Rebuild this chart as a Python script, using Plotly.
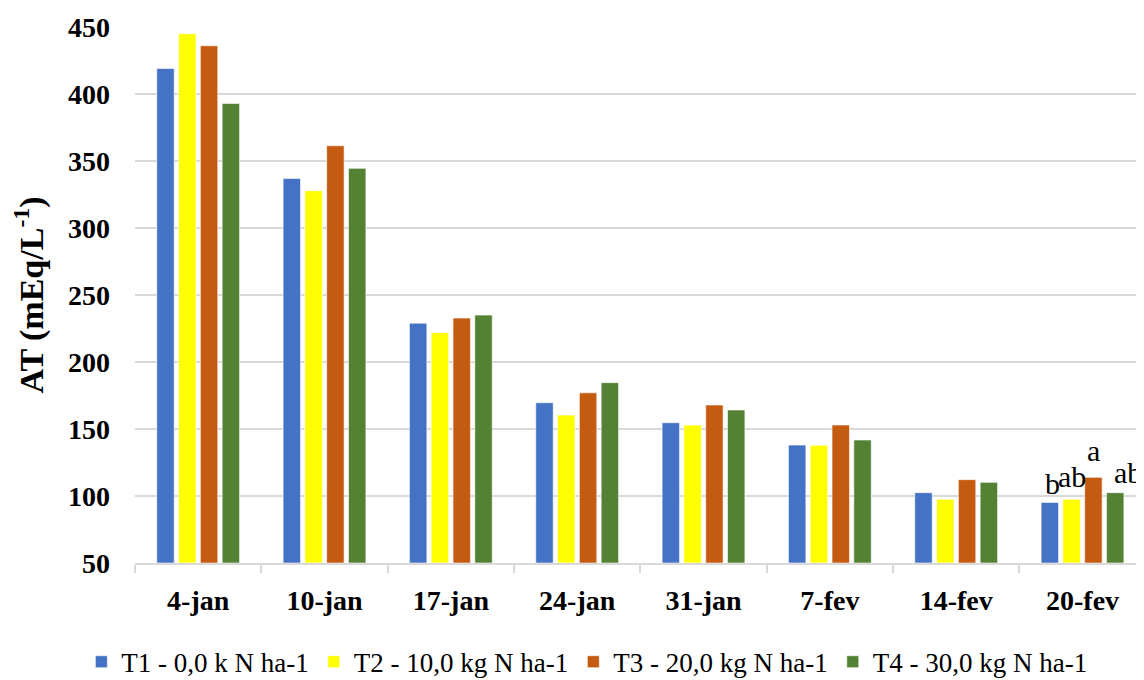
import plotly.graph_objects as go

categories = ["4-jan", "10-jan", "17-jan", "24-jan", "31-jan", "7-fev", "14-fev", "20-fev"]
series_names = ["T1 - 0,0 k N ha-1", "T2 - 10,0 kg N ha-1", "T3 - 20,0 kg N ha-1", "T4 - 30,0 kg N ha-1"]
t1 = [419, 337, 229, 169.6, 154.7, 138, 102.5, 95.2]
t2 = [445, 327.8, 221.9, 160.4, 152.9, 137.8, 97.5, 97.5]
t3 = [436, 361.4, 232.8, 177, 167.9, 153, 112.2, 113.9]
t4 = [393, 344.5, 235, 184.6, 164.2, 141.8, 110.2, 102.5]
letters_last = ["b", "ab", "a", "ab"]
y_ticks = [50, 100, 150, 200, 250, 300, 350, 400, 450]

colors = ["#4472C4", "#FFFF00", "#C55A11", "#548235"]
FONT = "Times New Roman, Liberation Serif, DejaVu Serif, serif"

fig = go.Figure()
for name, vals, col in zip(series_names, [t1, t2, t3, t4], colors):
    fig.add_trace(go.Bar(
        x=categories, y=[v - 50 for v in vals], base=50, name=name,
        marker=dict(color=col, line=dict(color="rgba(255,255,255,0.6)", width=1)),
    ))

# letters above last group
bargap = 0.31
slot = (1 - bargap) / 4
offsets = [(-1.5 + i) * slot for i in range(4)]
xshifts = [3, 0, 0, 13]
yshifts = [0, 4, 8, 2]
last_vals = [s[-1] for s in (t1, t2, t3, t4)]
for i, (txt, v) in enumerate(zip(letters_last, last_vals)):
    fig.add_annotation(
        x=len(categories) - 1 + offsets[i], y=v, xref="x", yref="y",
        text=txt, showarrow=False, yanchor="bottom",
        xshift=xshifts[i], yshift=yshifts[i],
        font=dict(family=FONT, size=30, color="black"),
    )

fig.update_layout(
    width=1144, height=680,
    margin=dict(l=127, r=0, t=19, b=125),
    paper_bgcolor="white", plot_bgcolor="white",
    barmode="group", bargap=bargap, bargroupgap=0.2,
    font=dict(family=FONT, color="black"),
    showlegend=True,
    legend=dict(
        orientation="h", xref="container", x=0.506, xanchor="center",
        yref="container", y=0.038, yanchor="middle",
        font=dict(family=FONT, size=27, color="black"),
        itemwidth=30, tracegroupgap=0,
    ),
)
fig.update_xaxes(
    type="category", range=[-0.5, 7.55],
    showline=True, linecolor="#D9D9D9", linewidth=1.5,
    ticks="outside", tickson="boundaries", ticklen=8, tickcolor="#D9D9D9", tickwidth=1.5,
    tickfont=dict(family=FONT, size=28, color="black", weight="bold"),
    ticklabelstandoff=12,
    showgrid=False,
)
fig.update_yaxes(
    range=[50, 450], tickvals=y_ticks,
    showgrid=True, gridcolor="#D9D9D9", gridwidth=1.5,
    zeroline=False, showline=False, ticks="",
    tickfont=dict(family=FONT, size=28, color="black", weight="bold"),
    ticklabelstandoff=24,
    title=dict(text="AT (mEq/L<sup>-1</sup>)", font=dict(family=FONT, size=34, color="black", weight="bold"), standoff=20),
)

fig.write_html("out.html")
